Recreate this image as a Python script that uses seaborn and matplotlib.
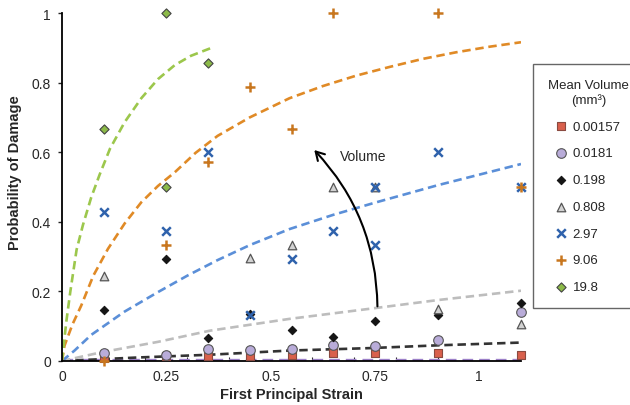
import matplotlib
matplotlib.use("Agg")
import matplotlib.pyplot as plt
import seaborn as sns
from matplotlib.patches import FancyArrowPatch

# --- data ---
strain = [0.1, 0.25, 0.35, 0.45, 0.55, 0.65, 0.75, 0.9, 1.1]

vol_labels = ["0.00157", "0.0181", "0.198", "0.808", "2.97", "9.06", "19.8"]

red_x = strain
red_y = [0.008, 0.013, 0.013, 0.013, 0.017, 0.022, 0.022, 0.023, 0.017]

lilac_x = strain
lilac_y = [0.023, 0.017, 0.034, 0.032, 0.034, 0.046, 0.042, 0.061, 0.142]

black_x = strain
black_y = [0.147, 0.292, 0.066, 0.135, 0.09, 0.07, 0.116, 0.132, 0.166]

tri_x = [0.1, 0.45, 0.55, 0.65, 0.75, 0.9, 1.1]
tri_y = [0.245, 0.296, 0.333, 0.5, 0.5, 0.149, 0.106]

blue_x = [0.1, 0.25, 0.35, 0.45, 0.55, 0.65, 0.75, 0.75, 0.9, 1.1]
blue_y = [0.428, 0.373, 0.6, 0.133, 0.293, 0.373, 0.5, 0.333, 0.6, 0.5]

orange_x = [0.1, 0.25, 0.35, 0.45, 0.55, 0.65, 0.9, 1.1]
orange_y = [0.0, 0.333, 0.571, 0.786, 0.667, 1.0, 1.0, 0.5]

green_x = [0.1, 0.25, 0.25, 0.35]
green_y = [0.667, 1.0, 0.5, 0.857]

# fitted curves
fit_green_x = [0, 0.01, 0.02, 0.035, 0.05, 0.07, 0.09, 0.115, 0.15, 0.19, 0.23,
               0.27, 0.309, 0.365]
fit_green_y = [0, 0.11, 0.2, 0.32, 0.39, 0.47, 0.535, 0.61, 0.686, 0.755, 0.81,
               0.85, 0.877, 0.903]

fit_orange_x = [0, 0.006, 0.025, 0.046, 0.075, 0.11, 0.15, 0.19, 0.23, 0.27, 0.32,
                0.373, 0.45, 0.545, 0.625, 0.705, 0.785, 0.864, 0.944, 1.024, 1.1]
fit_orange_y = [0, 0.044, 0.105, 0.159, 0.245, 0.322, 0.395, 0.456, 0.503, 0.542,
                0.598, 0.647, 0.70, 0.755, 0.79, 0.82, 0.845, 0.868, 0.887, 0.903, 0.916]

fit_blue_x = [0, 0.03, 0.07, 0.15, 0.23, 0.3, 0.373, 0.45, 0.545, 0.65, 0.75, 0.9, 1.1]
fit_blue_y = [0, 0.03, 0.075, 0.142, 0.198, 0.245, 0.29, 0.333, 0.379, 0.42, 0.455,
              0.505, 0.566]

fit_gray_x = [0, 0.094, 0.23, 0.354, 0.545, 0.737, 0.9, 1.1]
fit_gray_y = [0, 0.025, 0.055, 0.087, 0.121, 0.15, 0.175, 0.202]

fit_black_x = [0, 0.18, 0.354, 0.545, 0.737, 0.9, 1.1]
fit_black_y = [0, 0.01, 0.018, 0.03, 0.037, 0.045, 0.053]

fit_purple_x = [0, 1.1]
fit_purple_y = [0.003, 0.003]

# --- style ---
sns.set_style("white")
plt.rcParams['font.family'] = ['Liberation Sans', 'DejaVu Sans']

fig = plt.figure(figsize=(6.3, 4.06), dpi=100)
ax = fig.add_axes([62 / 630, 1 - 362 / 406, 459 / 630, 348 / 406])

dash = (0, (3.2, 1.8))
fits = [
    (fit_purple_x, fit_purple_y, "#9b7fc8", 2.4),
    (fit_black_x, fit_black_y, "#333333", 1.9),
    (fit_gray_x, fit_gray_y, "#bdbdbd", 1.9),
    (fit_blue_x, fit_blue_y, "#5b8fd8", 1.9),
    (fit_orange_x, fit_orange_y, "#e08a26", 1.9),
    (fit_green_x, fit_green_y, "#9cc74c", 1.9),
]
for fx, fy, c, lw in fits:
    sns.lineplot(x=fx, y=fy, ax=ax, color=c, lw=lw, linestyle=dash,
                 sort=False, estimator=None)

series = [
    (red_x, red_y, "s", "#d9604c", "#8a4a40", 36, 0.8),
    (lilac_x, lilac_y, "o", "#b9acd9", "#555555", 48, 0.8),
    (black_x, black_y, "D", "#151515", "#151515", 18, 0.8),
    (tri_x, tri_y, "^", "#d2d2d2", "#555555", 38, 0.9),
    (blue_x, blue_y, "x", "#2f62ac", None, 38, 1.8),
    (orange_x, orange_y, "+", "#c8761e", None, 48, 1.8),
    (green_x, green_y, "D", "#8cba48", "#444444", 22, 0.8),
]
for (sx, sy, m, fc, ec, s, lw), lab in zip(series, vol_labels):
    if ec is None:
        sns.scatterplot(x=sx, y=sy, ax=ax, marker=m, color=fc, s=s,
                        linewidth=lw, label=lab, clip_on=False, zorder=5)
    else:
        sns.scatterplot(x=sx, y=sy, ax=ax, marker=m, color=fc, edgecolor=ec,
                        s=s, linewidth=lw, label=lab, clip_on=False, zorder=5)

# curved arrow + annotation
arrow = FancyArrowPatch((0.756, 0.149), (0.6, 0.612),
                        connectionstyle="arc3,rad=0.2", arrowstyle="->,head_length=6,head_width=3.5",
                        color="black", lw=1.5, zorder=6)
ax.add_patch(arrow)
ax.text(0.665, 0.59, "Volume", fontsize=10, ha="left", va="center")

# axes
ax.set_xlim(0, 1.1)
ax.set_ylim(0, 1)
ax.set_xticks([0, 0.25, 0.5, 0.75, 1])
ax.set_xticklabels(["0", "0.25", "0.5", "0.75", "1"])
ax.set_xticks([0.1 * i for i in range(1, 11)], minor=True)
ax.set_yticks([0, 0.2, 0.4, 0.6, 0.8, 1])
ax.set_yticklabels(["0", "0.2", "0.4", "0.6", "0.8", "1"])
ax.tick_params(axis="x", which="major", length=0, pad=6, labelsize=10)
ax.tick_params(axis="x", which="minor", direction="in", length=3, width=0.8, bottom=True)
ax.tick_params(axis="y", which="major", direction="out", length=3, width=1, left=True,
               pad=5, labelsize=10)
for side in ["top", "right"]:
    ax.spines[side].set_visible(False)
for side in ["left", "bottom"]:
    ax.spines[side].set_color("black")
    ax.spines[side].set_linewidth(1.3)

ax.set_xlabel("First Principal Strain", fontsize=10.5, fontweight="bold", labelpad=3)
ax.set_ylabel("Probability of Damage", fontsize=10.5, fontweight="bold")
ax.yaxis.set_label_coords(-0.087, 0.545)

leg = ax.legend(title="Mean Volume\n(mm³)", loc="upper left",
                bbox_to_anchor=(533 / 630, 1 - 65 / 406), bbox_transform=fig.transFigure,
                borderaxespad=0, fontsize=9.5, title_fontsize=9.5, frameon=True,
                fancybox=False, framealpha=1, edgecolor="#666666",
                handlelength=0.6, handletextpad=0.6, labelspacing=1.1,
                borderpad=1.15)
leg.get_frame().set_linewidth(1.0)
leg.get_title().set_multialignment("center")

fig.savefig("out.png", dpi=100)
